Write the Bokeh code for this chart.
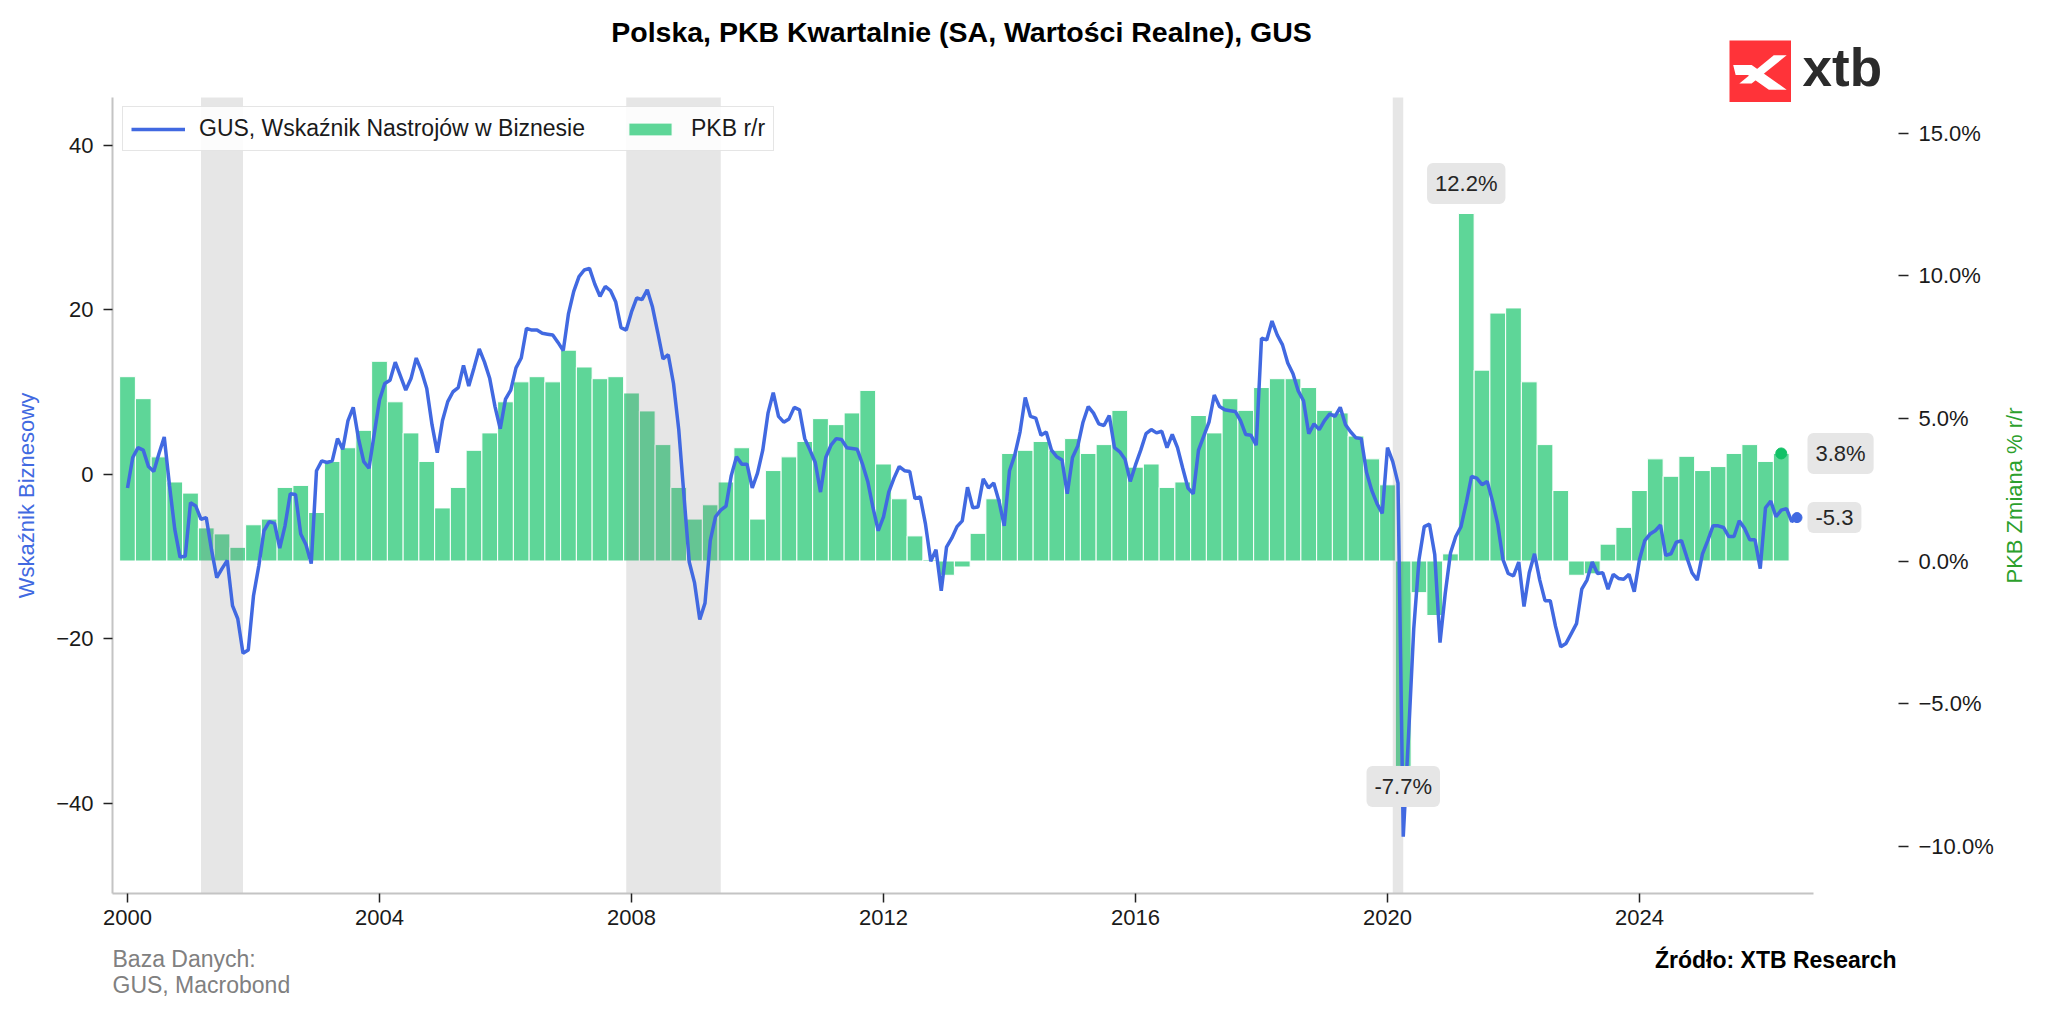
import math
from bokeh.plotting import figure
from bokeh.models import (Range1d, LinearAxis, FixedTicker, CustomJSTickFormatter, Label,
                          Legend, LegendItem, ColumnDataSource, PolyAnnotation)
from bokeh.embed import file_html
from bokeh.resources import INLINE

# ---------------- data ----------------
START_YEAR = 2000
# GUS business sentiment indicator, monthly from Jan 2000
nastroje = [
    -1.7, 2.0, 3.2, 2.9, 0.9, 0.3, 2.5, 4.5, -1.4, -6.7, -10.1, -10.0,
    -3.5, -3.9, -5.5, -5.3, -9.2, -12.6, -11.5, -10.5, -16.0, -17.6, -21.8, -21.4,
    -14.8, -11.2, -6.9, -5.8, -6.0, -9.0, -6.3, -2.4, -2.5, -7.3, -8.6, -10.9,
    0.4, 1.6, 1.4, 1.6, 4.3, 3.0, 6.5, 8.1, 4.3, 1.5, 0.7, 4.9,
    9.0, 11.0, 11.4, 13.6, 11.9, 10.2, 11.6, 14.1, 12.5, 10.4, 6.0, 2.6,
    6.5, 8.8, 10.0, 10.5, 13.2, 10.7, 12.9, 15.2, 13.6, 11.6, 8.2, 5.5,
    9.1, 10.2, 12.9, 14.1, 17.7, 17.5, 17.5, 17.1, 17.0, 16.9, 16.0, 15.0,
    19.5, 22.2, 24.0, 24.8, 25.0, 23.1, 21.6, 22.8, 22.3, 20.9, 17.8, 17.5,
    19.7, 21.4, 21.2, 22.4, 20.3, 17.2, 14.0, 14.5, 11.0, 5.4, -2.7, -10.7,
    -13.2, -17.7, -15.7, -8.1, -5.2, -4.4, -3.9, -0.2, 2.1, 1.2, 1.2, -1.7,
    0.1, 2.9, 7.4, 9.9, 7.0, 6.3, 6.7, 8.1, 7.8, 4.3, 2.9, 1.4,
    -2.2, 2.0, 3.5, 4.3, 4.2, 3.2, 3.1, 3.0, 1.2, -0.9, -4.1, -6.9,
    -5.2, -2.2, -0.5, 0.9, 0.4, 0.3, -3.0, -2.8, -6.1, -10.6, -9.2, -14.2,
    -8.9, -7.8, -6.4, -5.7, -1.6, -4.1, -4.0, -0.6, -1.7, -1.1, -3.3, -6.3,
    0.4, 2.3, 5.1, 9.3, 7.0, 6.8, 4.7, 5.1, 2.9, 2.1, 1.7, -2.4,
    2.0, 3.4, 6.3, 8.2, 7.4, 6.1, 5.9, 7.1, 3.2, 2.7, 1.8, -0.9,
    1.1, 2.9, 4.9, 5.4, 5.0, 5.2, 3.2, 4.8, 3.2, 0.7, -1.7, -2.4,
    2.9, 4.6, 6.3, 9.6, 8.2, 7.8, 7.7, 7.6, 6.5, 4.8, 4.7, 3.5,
    16.5, 16.3, 18.6, 16.9, 15.7, 13.5, 12.2, 10.1, 8.9, 4.9, 6.1, 5.4,
    6.5, 7.3, 7.0, 8.1, 6.0, 5.1, 4.4, 4.3, 0.2, -2.0, -3.6, -4.8,
    3.2, 1.5, -1.1, -44.1, -31.9, -18.8, -10.4, -6.4, -6.1, -9.8, -20.5, -14.5,
    -9.6, -7.6, -6.4, -3.5, -0.3, -0.5, -1.3, -0.9, -3.3, -6.1, -10.4, -12.1,
    -12.4, -10.7, -16.1, -12.0, -9.7, -12.9, -15.4, -15.4, -18.5, -21.0, -20.6, -19.4,
    -18.2, -14.0, -12.9, -10.7, -12.1, -12.0, -14.0, -12.2, -12.7, -12.8, -12.2, -14.3,
    -10.4, -8.1, -7.3, -6.9, -6.2, -9.9, -9.7, -8.3, -8.1, -10.1, -12.0, -12.9,
    -9.7, -8.1, -6.3, -6.3, -6.5, -7.6, -7.6, -5.7, -6.6, -8.0, -8.0, -11.5,
    -4.1, -3.3, -5.2, -4.4, -4.2, -5.8, -5.3,
]
# PKB r/r (%), quarterly from 2000 Q1
pkb_rr = [
    6.46, 5.69, 3.65, 2.77,
    2.38, 1.16, 0.95, 0.48,
    1.27, 1.47, 2.58, 2.65,
    1.70, 3.49, 3.97, 4.58,
    7.00, 5.58, 4.49, 3.49,
    1.86, 2.58, 3.88, 4.49,
    5.58, 6.28, 6.46, 6.28,
    7.39, 6.80, 6.39, 6.46,
    5.89, 5.26, 4.08, 2.58,
    1.47, 1.97, 2.77, 3.97,
    1.47, 3.17, 3.65, 4.19,
    4.99, 4.78, 5.19, 5.98,
    3.40, 2.18, 0.88, 0.05,
    -0.50, -0.21, 0.97, 2.18,
    3.77, 3.88, 4.19, 3.88,
    4.29, 3.77, 4.08, 5.28,
    3.29, 3.40, 2.58, 2.77,
    5.10, 4.49, 5.69, 5.28,
    6.08, 6.39, 6.39, 6.08,
    5.28, 5.19, 4.38, 3.58,
    2.67, -7.20, -1.11, -1.91,
    0.25, 12.18, 6.69, 8.69,
    8.87, 6.28, 4.08, 2.47,
    -0.50, -0.45, 0.59, 1.18,
    2.47, 3.58, 2.97, 3.67,
    3.17, 3.31, 3.77, 4.08,
    3.49, 3.77,
]
# shaded periods (recessions), year-month
rec_start = ["2001-03", "2007-12", "2020-02"]
rec_end = ["2001-11", "2009-06", "2020-04"]
callout_texts = ["12.2%", "-7.7%"]
x_ticks = [2000, 2004, 2008, 2012, 2016, 2020, 2024]
left_ticks = [-40, -20, 0, 20, 40]
right_ticks = [-10, -5, 0, 5, 10, 15]

title_text = "Polska, PKB Kwartalnie (SA, Wartości Realne), GUS"
line_name = "GUS, Wskaźnik Nastrojów w Biznesie"
bar_name = "PKB r/r"
left_title = "Wskaźnik Biznesowy"
right_title = "PKB Zmiana % r/r"
src_left = ["Baza Danych:", "GUS, Macrobond"]
src_right = "Źródło: XTB Research"
logo_text = "xtb"

# ---------------- layout geometry (canvas pixels) ----------------
W, H = 2048, 1016
X2000_PX, PX_YEAR = 127.0, 63.0          # x pixel of year 2000, pixels per year
YL0_PX, PX_UNIT = 473.5, 8.225           # left axis: pixel of 0, pixels per unit
YR0_PX, PX_PCT = 560.5, 28.53            # right axis: pixel of 0 %, pixels per %
BOX_L, BOX_T, BOX_R, BOX_B = 112, 97, 1813, 893   # data area (spines)
RAX_PX = 1898                            # detached right axis position


def px2x(px):
    return START_YEAR + (px - X2000_PX) / PX_YEAR


def px2yl(py):
    return (YL0_PX - py) / PX_UNIT


def px2yr(py):
    return (YR0_PX - py) / PX_PCT


def x2px(x):
    return X2000_PX + (x - START_YEAR) * PX_YEAR


X_LO, X_HI = px2x(BOX_L), px2x(BOX_R)
Y_LO, Y_HI = px2yl(BOX_B), px2yl(BOX_T)

# ---------------- derived ----------------
line_x = [START_YEAR + i / 12 for i in range(len(nastroje))]
bar_x = [START_YEAR + i * 0.25 for i in range(len(pkb_rr))]


def ym(s):
    y, m = s.split("-")
    return int(y) + (int(m) - 1) / 12


FONT = "Liberation Sans"
BLUE = "#4169e1"
GREEN_BAR = "#5ed698"
GREEN_AX = "#2ca02c"
SPINE = "#c4c4c4"

p = figure(width=W, height=H, output_backend="svg", toolbar_location=None,
           x_range=Range1d(px2x(0), px2x(W)), y_range=Range1d(px2yl(H), px2yl(0)),
           min_border=0)
p.min_border_left = p.min_border_right = p.min_border_top = p.min_border_bottom = 0
p.title.text = ""
p.title.visible = False
p.outline_line_color = None
p.xgrid.visible = False
p.ygrid.visible = False
p.background_fill_color = "white"
p.border_fill_color = "white"
p.extra_y_ranges = {"gdp": Range1d(px2yr(H), px2yr(0))}

# bars
bsrc = ColumnDataSource(dict(x=bar_x, top=pkb_rr))
bars = p.vbar(x="x", top="top", bottom=0, width=0.25, source=bsrc, y_range_name="gdp",
              fill_color=GREEN_BAR, line_color="white", line_width=1)

# recession shading (over bars, under line)
p.quad(left=[ym(s) for s in rec_start], right=[ym(e) for e in rec_end],
       bottom=Y_LO, top=Y_HI, fill_color="#808080", fill_alpha=0.2, line_color=None)

# sentiment line
lsrc = ColumnDataSource(dict(x=line_x, y=nastroje))
line = p.line(x="x", y="y", source=lsrc, line_color=BLUE, line_width=3.5)
p.scatter(x=[line_x[-1]], y=[nastroje[-1]], size=10, color=BLUE)
p.scatter(x=[bar_x[-1]], y=[pkb_rr[-1]], size=11, color="#12c166", y_range_name="gdp")


# axes
def style_axis(ax):
    ax.major_label_text_font = FONT
    ax.major_label_text_font_size = "22px"
    ax.major_label_text_color = "#1a1a1a"
    ax.minor_tick_line_color = None
    ax.major_tick_line_color = "#222222"
    ax.major_tick_line_width = 1.5
    ax.major_tick_in = 0


xa = p.xaxis[0]
style_axis(xa)
xa.fixed_location = Y_LO
xa.bounds = (X_LO, X_HI)
xa.ticker = FixedTicker(ticks=x_ticks)
xa.formatter = CustomJSTickFormatter(code="return tick.toFixed(0);")
xa.axis_line_color = SPINE
xa.axis_line_width = 2
xa.major_tick_out = 9
xa.major_label_standoff = 7

ya = p.yaxis[0]
style_axis(ya)
ya.fixed_location = X_LO
ya.bounds = (Y_LO, Y_HI)
ya.ticker = FixedTicker(ticks=left_ticks)
ya.formatter = CustomJSTickFormatter(
    code="return tick < 0 ? '\u2212' + Math.abs(tick) : tick.toFixed(0);")
ya.axis_line_color = SPINE
ya.axis_line_width = 2
ya.major_tick_out = 9
ya.major_label_standoff = 10

ra = LinearAxis(y_range_name="gdp")
style_axis(ra)
ra.fixed_location = px2x(RAX_PX)
ra.ticker = FixedTicker(ticks=right_ticks)
ra.formatter = CustomJSTickFormatter(
    code="return (tick < 0 ? '\u2212' : '') + Math.abs(tick).toFixed(1) + '%';")
ra.axis_line_color = None
ra.major_tick_out = 10
ra.major_label_standoff = 10
p.add_layout(ra, "right")

# legend
legend = Legend(items=[LegendItem(label=line_name, renderers=[line]),
                       LegendItem(label=bar_name, renderers=[bars])],
                orientation="horizontal", location=(122, H - 151))
legend.label_text_font = FONT
legend.label_text_font_size = "23px"
legend.label_text_color = "#1a1a1a"
legend.glyph_width = 54
legend.glyph_height = 16
legend.label_standoff = 14
legend.spacing = 38
legend.padding = 8
legend.margin = 0
legend.border_line_color = "#cccccc"
legend.border_line_width = 1.5
legend.background_fill_alpha = 0.85
p.add_layout(legend)

# callouts
box = dict(text_font=FONT, text_font_size="22px", text_color="#262626",
           background_fill_color="#e6e6e6", background_fill_alpha=1.0,
           padding=8, border_radius=6)
CALLOUT_BOX_PX = 1807
imax = max(range(len(pkb_rr)), key=lambda i: pkb_rr[i])
imin = min(range(len(pkb_rr)), key=lambda i: pkb_rr[i])
p.add_layout(Label(x=bar_x[imax], y=pkb_rr[imax], y_range_name="gdp", text=callout_texts[0],
                   y_offset=30, text_align="center", text_baseline="middle", **box))
p.add_layout(Label(x=bar_x[imin], y=pkb_rr[imin], y_range_name="gdp", text=callout_texts[1],
                   y_offset=-20, text_align="center", text_baseline="middle", **box))
p.add_layout(Label(x=bar_x[-1], y=pkb_rr[-1], y_range_name="gdp", text=f"{pkb_rr[-1]:.1f}%",
                   x_offset=CALLOUT_BOX_PX - x2px(bar_x[-1]),
                   text_align="left", text_baseline="middle", **box))
p.add_layout(Label(x=line_x[-1], y=nastroje[-1], text=f"{nastroje[-1]:.1f}",
                   x_offset=CALLOUT_BOX_PX - x2px(line_x[-1]),
                   text_align="left", text_baseline="middle", **box))


# free texts (x from the left edge, y = vertical centre from the top edge of the canvas)
def slabel(text, x_px, y_px, **kw):
    d = dict(text_font=FONT, text_font_size="23px", x_units="screen", y_units="screen",
             text_baseline="middle")
    d.update(kw)
    p.add_layout(Label(text=text, x=x_px, y=H - y_px, **d))


slabel(title_text, 961, 31.5, text_font_size="28.5px", text_font_style="bold",
       text_align="center", text_color="black")
slabel(left_title, 26, (BOX_T + BOX_B) / 2, angle=math.pi / 2, text_align="center",
       text_color=BLUE, text_font_size="22px")
slabel(right_title, 2014, (BOX_T + BOX_B) / 2, angle=math.pi / 2, text_align="center",
       text_color=GREEN_AX, text_font_size="22px")
slabel(src_left[0], BOX_L, 958.5, text_color="#808080")
slabel(src_left[1], BOX_L, 984, text_color="#808080")
slabel(src_right, 1896, 959, text_color="black", text_font_style="bold", text_align="right")

# logo
LX, LY, LS = 1729, 40, 61.5


def logo_poly(pts, color):
    xs = [LX + u * LS for u, v in pts]
    ys = [H - (LY + v * LS) for u, v in pts]
    p.add_layout(PolyAnnotation(xs=xs, ys=ys, xs_units="screen", ys_units="screen",
                                fill_color=color, fill_alpha=1, line_color=None))


logo_poly([(0, 0), (1, 0), (1, 1), (0, 1)], "#ff3339")
logo_poly([(0.06, 0.40), (0.36, 0.40), (0.93, 0.80), (0.64, 0.80), (0.30, 0.56), (0.10, 0.56)], "white")
logo_poly([(0.16, 0.70), (0.36, 0.70), (0.93, 0.24), (0.72, 0.24)], "white")
slabel(logo_text, 1802, 67, text_font_size="53px", text_font_style="bold", text_color="#2b2b2b")

with open("out.html", "w", encoding="utf-8") as f:
    f.write(file_html(p, INLINE))
